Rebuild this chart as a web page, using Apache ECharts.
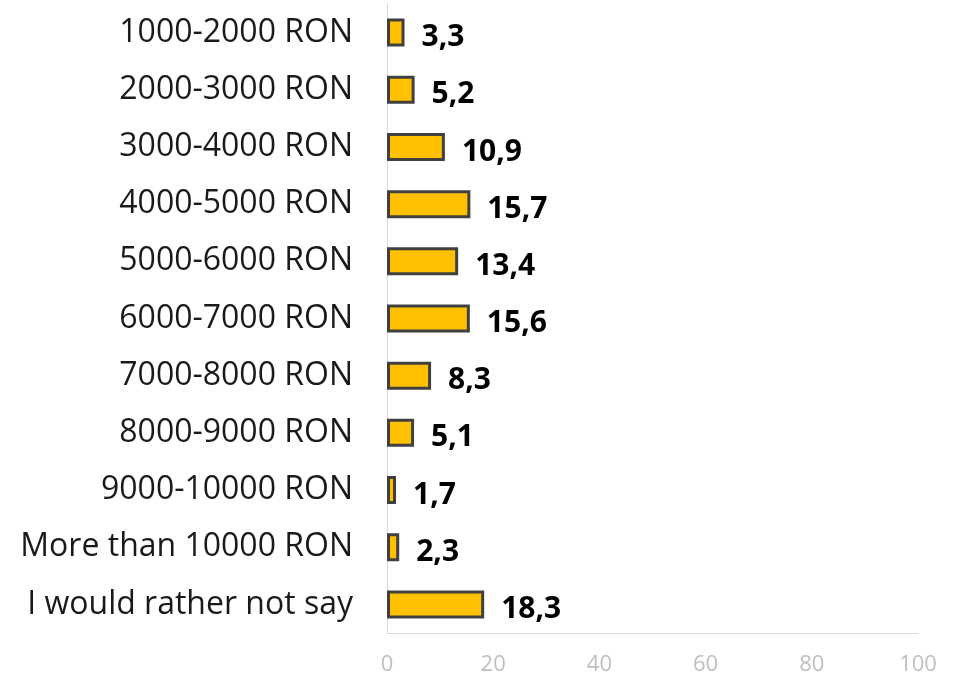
<!DOCTYPE html>
<html><head><meta charset="utf-8">
<script src="https://cdn.jsdelivr.net/npm/echarts@6/dist/echarts.min.js"></script>
<style>html,body{margin:0;padding:0;background:#fff}#c{width:953px;height:676px}</style>
</head><body><div id="c"></div>
<script>
const categories = ["1000-2000 RON","2000-3000 RON","3000-4000 RON","4000-5000 RON","5000-6000 RON","6000-7000 RON","7000-8000 RON","8000-9000 RON","9000-10000 RON","More than 10000 RON","I would rather not say"];
const values = [3.3,5.2,10.9,15.7,13.4,15.6,8.3,5.1,1.7,2.3,18.3];
const xTicks = [0,20,40,60,80,100];

const chart = echarts.init(document.getElementById('c'));
chart.setOption({
  animation:false,
  grid:{left:387,right:35,top:4,bottom:42,containLabel:false},
  xAxis:{type:'value',min:xTicks[0],max:xTicks[xTicks.length-1],interval:20,
    axisLine:{show:true,lineStyle:{color:'#d9d9d9',width:1}},
    axisTick:{show:false},splitLine:{show:false},
    axisLabel:{color:'#bfbfbf',fontSize:22,fontFamily:'Open Sans',margin:21}},
  yAxis:{type:'category',data:categories,inverse:true,
    axisLine:{show:true,lineStyle:{color:'#d9d9d9',width:1}},
    axisTick:{show:false},
    axisLabel:{color:'#1a1a1a',fontSize:32,fontFamily:'Open Sans',margin:34,padding:[6,0,0,0]}},
  series:[{type:'bar',data:values,barWidth:28,
    itemStyle:{color:'#FFC000',borderColor:'#404040',borderWidth:3},
    label:{show:true,position:'right',distance:17,offset:[0,5],color:'#000',fontWeight:'bold',fontSize:30,fontFamily:'Open Sans',
      formatter:p=>String(p.value).replace('.',',')}}]
});
</script></body></html>
